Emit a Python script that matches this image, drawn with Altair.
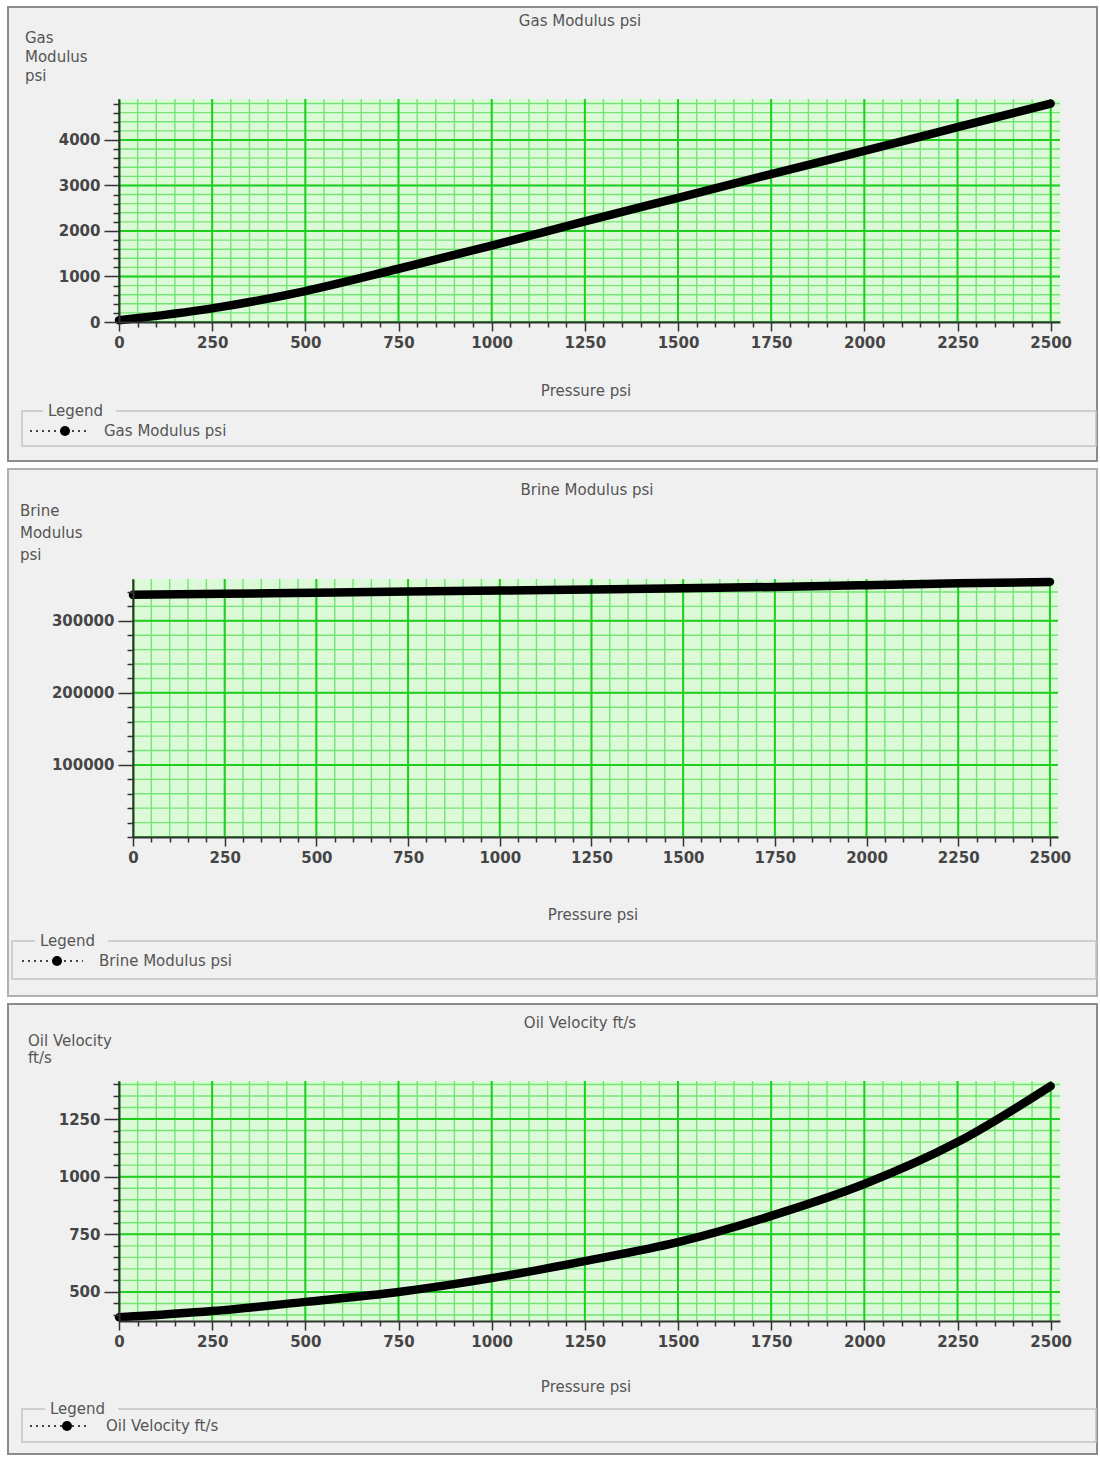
import altair as alt
import pandas as pd

# Pressure samples (psi) shared by the three curves
PRESSURE = [0, 250, 500, 750, 1000, 1250, 1500, 1750, 2000, 2250, 2500]

# Curve values at each pressure
GAS_MODULUS = [40, 300, 680, 1170, 1680, 2210, 2730, 3250, 3760, 4280, 4800]
BRINE_MODULUS = [336000, 337500, 339000, 340500, 342000, 343500, 345000,
                 347000, 349500, 352000, 354000]
OIL_VELOCITY = [390, 417, 457, 500, 560, 634, 716, 830, 968, 1150, 1393]

# Axis tick / grid positions
X_TICKS = list(range(0, 2501, 50))
X_LABELS = list(range(0, 2501, 250))
GAS_Y_TICKS = list(range(0, 4801, 200))
GAS_Y_LABELS = [0, 1000, 2000, 3000, 4000]
BRINE_Y_TICKS = list(range(0, 340001, 20000))
BRINE_Y_LABELS = [0, 100000, 200000, 300000]
OIL_Y_TICKS = list(range(400, 1401, 50))
OIL_Y_LABELS = [500, 750, 1000, 1250]

FONT = "DejaVu Sans"
PANEL_BG = "#f0f0f0"
PLOT_BG = "#dcfad8"
GRID_MINOR = "#72e572"
GRID_MAJOR = "#1fcf1f"

one = pd.DataFrame({"k": [0]})


def cond(test, on, off):
    return {"condition": {"test": test, "value": on}, "value": off}


def box(x, x2, y, y2, **kw):
    return alt.Chart(one).mark_rect(**kw).encode(
        x=alt.value(x), x2=alt.value(x2), y=alt.value(y), y2=alt.value(y2))


def label(txt, x, y, **kw):
    style = dict(font=FONT, fontSize=15, color="#555555", align="left",
                 baseline="middle")
    style.update(kw)
    return alt.Chart(one).mark_text(**style).encode(
        x=alt.value(x), y=alt.value(y), text=alt.value(txt))


def panel(cfg):
    w, h, x0 = cfg["w"], cfg["h"], cfg["x0"]
    xs = alt.Scale(domain=cfg["xdom"], range=[x0, w], nice=False, zero=False)
    ys = alt.Scale(domain=cfg["ydom"], nice=False, zero=False)

    axis_common = dict(title=None, grid=False, format="d", zindex=1,
                       labelFont=FONT, labelFontSize=15, labelFontWeight="bold",
                       labelColor="#454545", tickColor="#333333",
                       domainColor="#333333", domainWidth=2, tickWidth=1.5,
                       labelOverlap=False, labelFlush=False, labelBound=False)
    x_axis = alt.Axis(values=X_TICKS,
                      labelExpr="datum.value % 250 === 0 ? datum.label : ''",
                      tickSize=cond("datum.value % 250 === 0", 9, 5),
                      labelPadding=4, **axis_common)
    ytest = cfg["ytest"]
    y_axis = alt.Axis(values=cfg["yticks"],
                      labelExpr=f"{ytest} ? datum.label : ''",
                      tickSize=cond(ytest, 15, 6), offset=-x0,
                      labelPadding=4, **axis_common)

    fl, fr, ft, fb = cfg["frame"]
    layers = [box(fl, fr, ft, fb, fill=PANEL_BG, stroke=cfg["frame_stroke"],
                  strokeWidth=2)]

    # legend box (fieldset style)
    lx, lx2, ly, ly2 = cfg["legend_box"]
    layers.append(box(lx, lx2, ly, ly2, fill=None, stroke="#c4c4c4",
                      strokeWidth=1.5))
    tx, ty = cfg["legend_title"]
    layers.append(box(tx - 5, tx + 68, ty - 8, ty + 8, fill=PANEL_BG))
    layers.append(label("Legend", tx, ty))
    sx1, sx2, cx, sy = cfg["legend_symbol"]
    layers.append(alt.Chart(one).mark_rule(
        color="#444", strokeDash=[2, 4], strokeWidth=2).encode(
        x=alt.value(sx1), x2=alt.value(sx2), y=alt.value(sy), y2=alt.value(sy)))
    layers.append(alt.Chart(one).mark_point(
        filled=True, color="black", size=100, shape="circle", opacity=1).encode(
        x=alt.value(cx), y=alt.value(sy)))
    itx, ity = cfg["legend_text"]
    layers.append(label(cfg["series"], itx, ity))

    # titles
    ttx, tty = cfg["title_pos"]
    layers.append(label(cfg["series"], ttx, tty, align="center"))
    ytx, yty, ylh = cfg["ytitle_pos"]
    layers.append(label(cfg["ytitle"], ytx, yty, baseline="top",
                        lineBreak="\n", lineHeight=ylh))
    xtx, xty = cfg["xtitle_pos"]
    layers.append(label("Pressure psi", xtx, xty, align="center"))

    # plot area and grid
    layers.append(box(x0, w, 0, h, fill=PLOT_BG))
    layers.append(alt.Chart(pd.DataFrame({"v": X_TICKS})).mark_rule(
        color=GRID_MINOR, strokeWidth=1.4).encode(
        x=alt.X("v:Q", scale=xs, axis=x_axis)))
    layers.append(alt.Chart(pd.DataFrame({"v": cfg["yticks"]})).mark_rule(
        color=GRID_MINOR, strokeWidth=1.4).encode(
        y=alt.Y("v:Q", scale=ys, axis=y_axis),
        x=alt.value(x0), x2=alt.value(w)))
    layers.append(alt.Chart(pd.DataFrame({"v": X_LABELS})).mark_rule(
        color=GRID_MAJOR, strokeWidth=2).encode(
        x=alt.X("v:Q", scale=xs, axis=x_axis)))
    layers.append(alt.Chart(pd.DataFrame({"v": cfg["ylabels"]})).mark_rule(
        color=GRID_MAJOR, strokeWidth=2).encode(
        y=alt.Y("v:Q", scale=ys, axis=y_axis),
        x=alt.value(x0), x2=alt.value(w)))

    # the curve
    df = pd.DataFrame({"p": PRESSURE, "v": cfg["values"]})
    layers.append(alt.Chart(df).mark_line(
        color="black", strokeWidth=8.5, interpolate="monotone",
        strokeCap="round").encode(
        x=alt.X("p:Q", scale=xs, axis=x_axis),
        y=alt.Y("v:Q", scale=ys, axis=y_axis)))

    return alt.layer(*layers).properties(width=w, height=h)


gas = panel(dict(
    w=941, h=223, x0=0, xdom=[0, 2525], ydom=[0, 4900],
    values=GAS_MODULUS, yticks=GAS_Y_TICKS, ylabels=GAS_Y_LABELS,
    ytest="datum.value % 1000 === 0",
    series="Gas Modulus psi", ytitle="Gas\nModulus\npsi",
    frame=(-111, 978, -92, 362), frame_stroke="#8c8c8c",
    legend_box=(-97, 977, 312, 347), legend_title=(-71, 312),
    legend_symbol=(-89, -30, -54, 332), legend_text=(-15, 332),
    title_pos=(461, -78), ytitle_pos=(-94, -68, 19), xtitle_pos=(467, 292),
))

brine = panel(dict(
    w=939, h=258, x0=14, xdom=[0, 2522], ydom=[0, 358000],
    values=BRINE_MODULUS, yticks=BRINE_Y_TICKS, ylabels=BRINE_Y_LABELS,
    ytest="(datum.value > 0 && datum.value % 100000 === 0)",
    series="Brine Modulus psi", ytitle="Brine\nModulus\npsi",
    frame=(-111, 978, -110, 417), frame_stroke="#b0b0b0",
    legend_box=(-107, 977, 362, 400), legend_title=(-79, 362),
    legend_symbol=(-97, -36, -62, 382), legend_text=(-20, 382),
    title_pos=(468, -89), ytitle_pos=(-99, -75, 22), xtitle_pos=(474, 336),
))

oil = panel(dict(
    w=941, h=240, x0=0, xdom=[0, 2525], ydom=[374, 1415],
    values=OIL_VELOCITY, yticks=OIL_Y_TICKS, ylabels=OIL_Y_LABELS,
    ytest="datum.value % 250 === 0",
    series="Oil Velocity ft/s", ytitle="Oil Velocity\nft/s",
    frame=(-111, 978, -77, 373), frame_stroke="#8c8c8c",
    legend_box=(-97, 977, 328, 361), legend_title=(-69, 328),
    legend_symbol=(-89, -30, -52, 345), legend_text=(-13, 345),
    title_pos=(461, -58), ytitle_pos=(-91, -47, 17), xtitle_pos=(467, 306),
))

chart = alt.vconcat(gas, brine, oil, spacing=6).properties(
    padding={"left": 7, "top": 6, "right": 0, "bottom": 0},
    background="white",
).configure_view(stroke=None)

chart.save("out.html", embed_options={"renderer": "svg", "actions": False})
